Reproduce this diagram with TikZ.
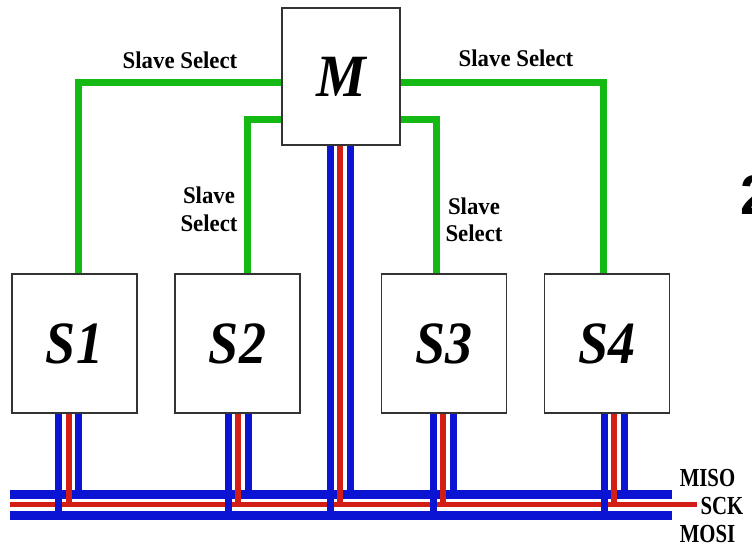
\documentclass[tikz,border=0pt]{standalone}
\usepackage{fontspec}
\setmainfont{Liberation Serif}
\newfontfamily\digitfont{Liberation Sans}
\pgfdeclarelayer{wires}
\pgfsetlayers{wires,main}

\definecolor{selgreen}{RGB}{20,185,20}
\definecolor{busblue}{RGB}{10,20,210}
\definecolor{busred}{RGB}{210,30,20}

% horizontally squeezed text
\newcommand\sqz[2]{\scalebox{#1}[1]{#2}}

\begin{document}
\begin{tikzpicture}[x=1pt,y=-1pt,
  unit/.style={draw=black!80, line width=1.6pt, fill=white, inner sep=0pt,
    minimum width=125pt, minimum height=139pt,
    font=\fontsize{60}{60}\selectfont\bfseries\itshape},
  sel/.style={selgreen, line width=7pt},
  selabel/.style={inner sep=0pt, font=\fontsize{24}{24}\selectfont\bfseries},
  buslabel/.style={inner sep=0pt, font=\fontsize{26}{26}\selectfont\bfseries},
  bluewire/.style={busblue, line width=7pt},
  redwire/.style={busred, line width=6pt},
  bluebus/.style={busblue, line width=9pt},
  redbus/.style={busred, line width=5pt}]

\useasboundingbox (0,0) rectangle (752,547);
\clip (0,0) rectangle (752,547);

% master and slaves
\node[unit, minimum width=118pt, minimum height=137pt] (M) at (341,76.5) {\sqz{0.93}{M}};
\node[unit] (S1) at (74.5,343.5) {\sqz{0.9}{S1}};
\node[unit] (S2) at (237.5,343.5) {\sqz{0.9}{S2}};
\node[unit] (S3) at (444,343.5) {\sqz{0.9}{S3}};
\node[unit] (S4) at (607,343.5) {\sqz{0.9}{S4}};

% bus end points
\coordinate (miso-w) at (10,494.5);
\coordinate (miso-e) at (672,494.5);
\coordinate (sck-w) at (10,504.5);
\coordinate (sck-e) at (697,504.5);
\coordinate (mosi-w) at (10,515);
\coordinate (mosi-e) at (672,515);

\begin{pgfonlayer}{wires}
  % slave select lines
  \draw[sel] ([yshift=-5.5pt]M.west) -| ([xshift=3.5pt]S1.north);
  \draw[sel] ([yshift=-42.5pt]M.west) -| ([xshift=9.5pt]S2.north);
  \draw[sel] ([yshift=-42.5pt]M.east) -| ([xshift=-8pt]S3.north);
  \draw[sel] ([yshift=-5.5pt]M.east) -| ([xshift=-4pt]S4.north);

  % shared bus
  \draw[bluebus] (miso-w) -- (miso-e);
  \draw[redbus] (sck-w) -- (sck-e);
  \draw[bluebus] (mosi-w) -- (mosi-e);

  % drops from each unit to the bus
  \foreach \n/\d in {S1/-16, S2/-9.5, S3/-11, S4/-3, M/-11} {
    \coordinate (\n-l) at ([xshift=\d pt]\n.south);
    \coordinate (\n-c) at ([xshift=\d pt+10pt]\n.south);
    \coordinate (\n-r) at ([xshift=\d pt+20pt]\n.south);
    \draw[bluewire] (\n-l) -- (\n-l |- mosi-w);
    \draw[redwire] (\n-c) -- (\n-c |- sck-w);
    \draw[bluewire] (\n-r) -- (\n-r |- miso-w);
  }
\end{pgfonlayer}

% labels
\node[selabel] (ss1) at (180,60) {\sqz{0.95}{Slave Select}};
\node[selabel] (ss4) at (516,58) {\sqz{0.95}{Slave Select}};
\node[selabel] (ss2a) at (209,195) {\sqz{0.95}{Slave}};
\node[selabel] (ss2b) at (209,223) {\sqz{0.95}{Select}};
\node[selabel] (ss3a) at (474,206) {\sqz{0.95}{Slave}};
\node[selabel] (ss3b) at (474,233) {\sqz{0.95}{Select}};

\node[buslabel] (lmiso) at (707.5,478) {\sqz{0.8}{MISO}};
\node[buslabel] (lsck) at (722,506) {\sqz{0.8}{SCK}};
\node[buslabel] (lmosi) at (707.5,534) {\sqz{0.8}{MOSI}};

\node[inner sep=0pt, anchor=west, font=\digitfont\fontsize{56}{56}\selectfont\bfseries] (fig) at (740,195) {2};
\end{tikzpicture}
\end{document}
